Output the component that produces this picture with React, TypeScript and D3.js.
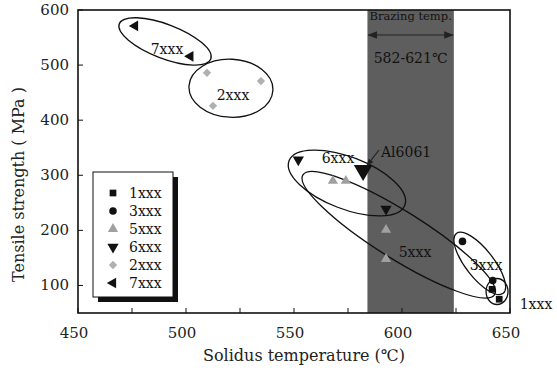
import React from 'react'
import * as d3 from 'd3'

// series in legend order
const seriesNames = ['1xxx', '3xxx', '5xxx', '6xxx', '2xxx', '7xxx']
const temp1xxx = [641.7, 645]
const ts1xxx = [93, 75]
const temp3xxx = [628, 642]
const ts3xxx = [180, 109]
const temp5xxx = [568, 574, 592.6, 592.6]
const ts5xxx = [290, 290, 201, 148]
const temp6xxx = [552, 592.6]
const ts6xxx = [328, 239]
const temp2xxx = [509.7, 534.7, 512.5]
const ts2xxx = [486, 471, 426]
const temp7xxx = [476.4, 502]
const ts7xxx = [571, 516]
const al6061 = { temp: 582, ts: 309 }

const brazingRange = [584, 624]
const xTicks = [450, 500, 550, 600, 650]
const yTicks = [100, 200, 300, 400, 500, 600]

// group ellipses: centre in data units, radii in px, angle in degrees
const groupNames = ['7xxx', '2xxx', '6xxx', '5xxx', '3xxx', '1xxx']
const groupCx = [490.3, 520.8, 574.5, 598.5, 636, 644]
const groupCy = [543, 458, 286, 192, 140, 89]
const groupRx = [49, 42, 62, 113, 38, 11]
const groupRy = [17, 29, 26, 24, 14, 13]
const groupAngle = [21, 3, 21, 32, 52, 0]

const W = 557
const H = 374
const m = { left: 78, right: 510, top: 10, bottom: 313 }
const font = '"DejaVu Serif", "Liberation Serif", serif'

const styles: Record<string, { type: d3.SymbolType; rot: number; fill: string; size: number }> = {
  '1xxx': { type: d3.symbolSquare, rot: 0, fill: '#111', size: 45 },
  '3xxx': { type: d3.symbolCircle, rot: 0, fill: '#111', size: 45 },
  '5xxx': { type: d3.symbolTriangle, rot: 0, fill: '#a0a0a0', size: 45 },
  '6xxx': { type: d3.symbolTriangle, rot: 180, fill: '#111', size: 55 },
  '2xxx': { type: d3.symbolSquare, rot: 45, fill: '#b0b0b0', size: 35 },
  '7xxx': { type: d3.symbolTriangle, rot: -90, fill: '#111', size: 50 }
}

const seriesData: Record<string, [number[], number[]]> = {
  '1xxx': [temp1xxx, ts1xxx],
  '3xxx': [temp3xxx, ts3xxx],
  '5xxx': [temp5xxx, ts5xxx],
  '6xxx': [temp6xxx, ts6xxx],
  '2xxx': [temp2xxx, ts2xxx],
  '7xxx': [temp7xxx, ts7xxx]
}

export default function App() {
  const x = d3.scaleLinear().domain([450, 650]).range([m.left, m.right])
  const y = d3.scaleLinear().domain([50, 600]).range([m.bottom, m.top])
  const minorX = d3.range(450, 651, 25)

  const sym = (name: string, size?: number) =>
    d3.symbol().type(styles[name].type).size(size || styles[name].size)() || ''

  const points = seriesNames.map(name => {
    const [xs, ys] = seriesData[name]
    const st = styles[name]
    return xs.map((v, i) => (
      <path key={`${name}_${i}`} d={sym(name)} fill={st.fill}
        transform={`translate(${x(v)},${y(ys[i])}) rotate(${st.rot})`} />
    ))
  })

  const ellipses = groupNames.map((g, i) => (
    <ellipse key={`ell_${g}`} cx={0} cy={0} rx={groupRx[i]} ry={groupRy[i]}
      fill="none" stroke="#111" strokeWidth={1.3}
      transform={`translate(${x(groupCx[i])},${y(groupCy[i])}) rotate(${groupAngle[i]})`} />
  ))

  const bx0 = x(brazingRange[0])
  const bx1 = x(brazingRange[1])
  const bMid = (bx0 + bx1) / 2
  const ax = x(al6061.temp)
  const ay = y(al6061.ts)

  const legX = 93
  const legY = 172

  return (
    <svg width={W} height={H} style={{ position: 'absolute', left: 0, top: 0, background: '#fff' }}
      fontFamily={font}>
      <defs>
        <marker id="ah" viewBox="0 0 10 10" refX="9" refY="5" markerWidth="8" markerHeight="8" orient="auto-start-reverse">
          <path d="M0,1 L10,5 L0,9 z" fill="#222" />
        </marker>
        <marker id="ah2" viewBox="0 0 10 10" refX="9" refY="5" markerWidth="6" markerHeight="6" orient="auto">
          <path d="M0,1 L10,5 L0,9 z" fill="#222" />
        </marker>
      </defs>

      {/* brazing band */}
      <rect x={bx0} y={m.top} width={bx1 - bx0} height={m.bottom - m.top} fill="#5e5e5e" />
      <text x={bMid} y={m.top + 10} fontSize={11.5} textAnchor="middle" fill="#111">Brazing temp.</text>
      <line x1={bx0 + 1} x2={bx1 - 1} y1={35} y2={35} stroke="#222" strokeWidth={1.2}
        markerStart="url(#ah)" markerEnd="url(#ah)" />
      <text x={bMid} y={63} fontSize={14} textAnchor="middle" fill="#111">582-621℃</text>

      {/* ticks */}
      {minorX.map(t => (
        <line key={`xt_${t}`} x1={x(t)} x2={x(t)} y1={m.bottom} y2={m.bottom - 5} stroke="#111" strokeWidth={1} />
      ))}
      {yTicks.map(t => (
        <line key={`yt_${t}`} x1={m.left} x2={m.left + 5} y1={y(t)} y2={y(t)} stroke="#111" strokeWidth={1} />
      ))}
      {xTicks.map(t => (
        <text key={`xl_${t}`} x={x(t) - 4} y={m.bottom + 25} fontSize={15} textAnchor="middle" fill="#222">{t}</text>
      ))}
      {yTicks.map(t => (
        <text key={`yl_${t}`} x={m.left - 9} y={y(t) + 5} fontSize={15} textAnchor="end" fill="#222">{t}</text>
      ))}

      {/* frame */}
      <rect x={m.left} y={m.top} width={m.right - m.left} height={m.bottom - m.top} fill="none" stroke="#111" strokeWidth={1.6} />

      {ellipses}
      {points}

      {/* Al6061 */}
      <path d={sym('6xxx', 150)} fill="#111" transform={`translate(${ax},${ay}) rotate(180)`} />
      <line x1={379} y1={150} x2={ax + 4} y2={ay - 5} stroke="#222" strokeWidth={1.2} markerEnd="url(#ah2)" />
      <text x={381} y={157} fontSize={14} fill="#111">Al6061</text>

      {/* group labels */}
      <text x={167} y={54} fontSize={14} textAnchor="middle" fill="#111">7xxx</text>
      <text x={233} y={100} fontSize={14} textAnchor="middle" fill="#111">2xxx</text>
      <text x={338} y={163} fontSize={14} textAnchor="middle" fill="#111">6xxx</text>
      <text x={415} y={257} fontSize={14} textAnchor="middle" fill="#111">5xxx</text>
      <text x={486} y={270} fontSize={14} textAnchor="middle" fill="#111">3xxx</text>
      <text x={536} y={309} fontSize={14} textAnchor="middle" fill="#111">1xxx</text>

      {/* legend */}
      <rect x={legX + 5} y={legY + 5} width={80} height={125} fill="#111" />
      <rect x={legX} y={legY} width={80} height={125} fill="#fff" stroke="#111" strokeWidth={1} />
      {seriesNames.map((name, i) => (
        <g key={`leg_${name}`} transform={`translate(${legX + 20},${legY + 21 + i * 18})`}>
          <path d={sym(name)} fill={styles[name].fill} transform={`rotate(${styles[name].rot})`} />
          <text x={16} y={5} fontSize={14} fill="#111">{name}</text>
        </g>
      ))}

      {/* axis titles */}
      <text x={304} y={361} fontSize={16} textAnchor="middle" fill="#222">Solidus temperature (℃)</text>
      <text transform={`translate(24,${(m.top + m.bottom) / 2 + 23}) rotate(-90)`} fontSize={16} textAnchor="middle" fill="#222">
        Tensile strength ( MPa )
      </text>
    </svg>
  )
}
